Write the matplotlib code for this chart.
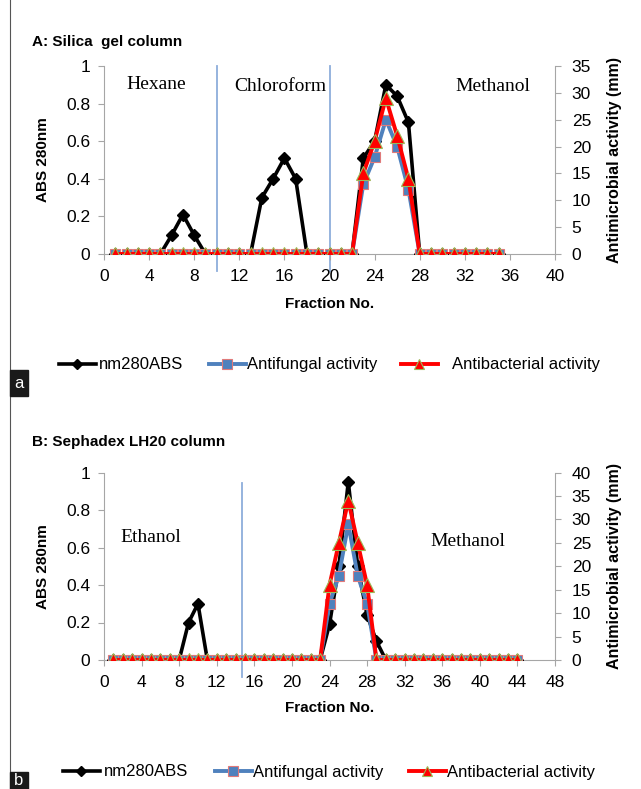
import numpy as np
import matplotlib
matplotlib.use("Agg")
import matplotlib.pyplot as plt
from matplotlib.patches import Rectangle
from matplotlib.lines import Line2D

plt.rcParams['font.family'] = ['Liberation Sans', 'DejaVu Sans']

# ---------------------------------------------------------------------- #
# Data
# ---------------------------------------------------------------------- #
# A: Silica gel column (fractions 1..35)
fractions_a = np.arange(1, 36)
abs280_a = [0, 0, 0, 0, 0, 0.1, 0.21, 0.1, 0, 0,
            0, 0, 0, 0.3, 0.4, 0.51, 0.4, 0, 0, 0,
            0, 0, 0.51, 0.6, 0.9, 0.84, 0.7, 0, 0, 0,
            0, 0, 0, 0, 0]
antifungal_a = [0] * 22 + [13, 18, 25, 20, 12] + [0] * 8
antibacterial_a = [0] * 22 + [15, 21, 29, 22, 14] + [0] * 8
solvents_a = ['Hexane', 'Chloroform', 'Methanol']
solvent_pos_a = [(4.6, 0.9), (15.6, 0.89), (34.5, 0.89)]
dividers_a = [10, 20]

# B: Sephadex LH20 column (fractions 1..44)
fractions_b = np.arange(1, 45)
abs280_b = [0, 0, 0, 0, 0, 0, 0, 0, 0.2, 0.3,
            0, 0, 0, 0, 0, 0, 0, 0, 0, 0,
            0, 0, 0, 0.19, 0.5, 0.95, 0.5, 0.24, 0.1, 0,
            0, 0, 0, 0, 0, 0, 0, 0, 0, 0,
            0, 0, 0, 0]
antifungal_b = [0] * 23 + [12, 18, 29, 18, 12] + [0] * 16
antibacterial_b = [0] * 23 + [16, 25, 34, 25, 16] + [0] * 16
solvents_b = ['Ethanol', 'Methanol']
solvent_pos_b = [(5.0, 0.655), (38.7, 0.63)]
dividers_b = [14.7]

legend_labels = ['nm280ABS', 'Antifungal activity', 'Antibacterial activity']

W, H = 641, 789
fig = plt.figure(figsize=(W / 100, H / 100), dpi=100)

GRAY = '#a6a6a6'
BLUE = '#4f81bd'
RED = '#ff0000'
TICK_FS = 12.5
LABEL_FS = 11


def px_axes(left, top, right, bottom):
    return fig.add_axes([left / W, 1 - bottom / H, (right - left) / W, (bottom - top) / H])


def draw_panel(ax, fr, abs_vals, fung, bact, xmax, rmax, solvents, spos, dividers, div_top, xlab_y):
    ax.plot(fr, abs_vals, color='black', lw=2.6, marker='D', ms=6.5, mfc='black', mec='black', zorder=3)
    ax.set_xlim(0, xmax)
    ax.set_ylim(0, 1)
    ax.set_xticks(np.arange(0, xmax + 1, 4))
    ax.set_yticks([0, 0.2, 0.4, 0.6, 0.8, 1])
    ax.set_yticklabels(['0', '0.2', '0.4', '0.6', '0.8', '1'])
    for s in ['top', 'right']:
        ax.spines[s].set_visible(False)
    for s in ['left', 'bottom']:
        ax.spines[s].set_color(GRAY)
    ax.tick_params(axis='both', colors=GRAY, labelcolor='black', labelsize=TICK_FS, length=4)
    ax.tick_params(axis='x', pad=7)
    ax.tick_params(axis='y', pad=6)
    ax.set_xlabel('Fraction No.', fontsize=LABEL_FS, fontweight='bold')
    ax.xaxis.set_label_coords(0.5, xlab_y)
    ax.set_ylabel('ABS 280nm', fontsize=LABEL_FS, fontweight='bold')
    ax.yaxis.set_label_coords(-0.12, 0.5)
    for d in dividers:
        ax.axvline(d, ymin=-0.09, ymax=div_top, color='#8eaedb', lw=1.3, clip_on=False, zorder=1)
    for name, (x, y) in zip(solvents, spos):
        ax.text(x, y, name, ha='center', va='center', fontsize=14,
                family=['Liberation Serif', 'DejaVu Serif'])

    ax2 = ax.twinx()
    ax2.plot(fr, fung, color=BLUE, lw=2.8, marker='s', ms=7, mfc=BLUE, mec='#e07a7a', mew=0.8, zorder=3)
    ax2.plot(fr, bact, color=RED, lw=2.8, marker='^', ms=9.5, mfc=RED, mec='#9bbb59', mew=0.8, zorder=4)
    ax2.set_ylim(0, rmax)
    ax2.set_yticks(np.arange(0, rmax + 1, 5))
    for s in ['top', 'left', 'bottom']:
        ax2.spines[s].set_visible(False)
    ax2.spines['right'].set_color(GRAY)
    ax2.tick_params(axis='y', colors=GRAY, labelcolor='black', labelsize=TICK_FS, length=4, pad=8)
    ax2.set_ylabel('Antimicrobial activity (mm)', fontsize=11.5, fontweight='bold')
    ax2.yaxis.set_label_coords(1.115, 0.5)
    ax.set_zorder(ax2.get_zorder() - 1)
    ax.patch.set_visible(False)
    return ax2


ax_a = px_axes(104, 66, 555, 254)
draw_panel(ax_a, fractions_a, abs280_a, antifungal_a, antibacterial_a, 40, 35,
           solvents_a, solvent_pos_a, dividers_a, 1.0, -0.23)
fig.text(32 / W, 1 - 42 / H, 'A: Silica  gel column', fontsize=11, fontweight='bold', va='center')

ax_b = px_axes(104, 472.5, 555, 660)
draw_panel(ax_b, fractions_b, abs280_b, antifungal_b, antibacterial_b, 48, 40,
           solvents_b, solvent_pos_b, dividers_b, 0.945, -0.22)
fig.text(32 / W, 1 - 442 / H, 'B: Sephadex LH20 column', fontsize=11, fontweight='bold', va='center')

# legends: one entry each, placed at the handle start (px) with its own text gap
handles = [
    Line2D([], [], color='black', lw=2.6, marker='D', ms=5.5, mfc='black'),
    Line2D([], [], color=BLUE, lw=2.8, marker='s', ms=6.5, mfc=BLUE, mec='#e07a7a', mew=0.8),
    Line2D([], [], color=RED, lw=2.8, marker='^', ms=7.5, mfc=RED, mec='#9bbb59', mew=0.8),
]
legend_rows = [
    (365, [59, 209, 401], [0.2, 0.1, 0.85]),
    (772, [63, 215, 409], [0.25, 0.1, 0.1]),
]
for ycen, xs, gaps in legend_rows:
    for h, lab, x0, gap in zip(handles, legend_labels, xs, gaps):
        fig.legend([h], [lab], loc='center left', bbox_to_anchor=(x0 / W, 1 - ycen / H),
                   frameon=False, borderaxespad=0, borderpad=0, handlelength=2.2,
                   handletextpad=gap, prop={'family': ['Liberation Sans', 'DejaVu Sans'], 'size': 12})

# panel tags
for tag, y0, y1 in (('a', 370, 396), ('b', 772, 789)):
    fig.patches.append(Rectangle((10 / W, 1 - y1 / H), 18 / W, (y1 - y0) / H,
                                 transform=fig.transFigure, color='#1a1a1a', zorder=5))
    fig.text(19 / W, 1 - (y0 + y1) / 2 / H, tag, color='white', fontsize=12,
             ha='center', va='center', zorder=6)

# left frame line
fig.add_artist(Line2D([10 / W, 10 / W], [0, 1], transform=fig.transFigure, color='#555555', lw=0.8))

fig.savefig('out.png', dpi=100)
